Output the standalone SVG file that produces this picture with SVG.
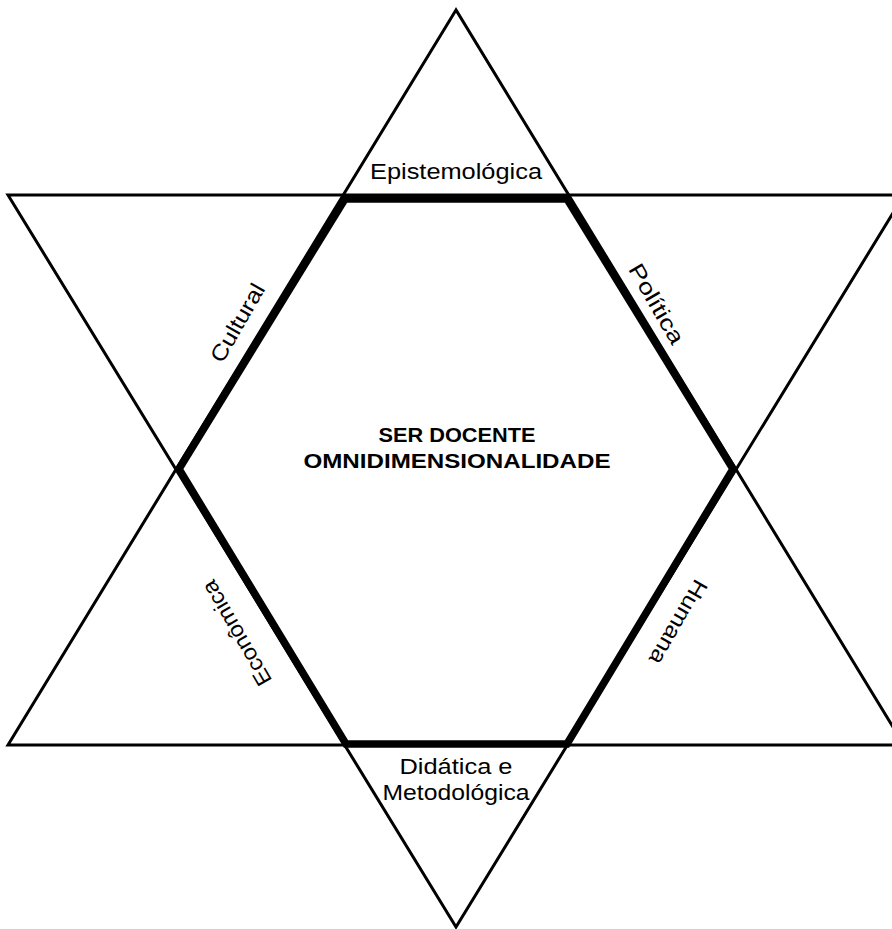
<svg xmlns="http://www.w3.org/2000/svg" width="892" height="929" viewBox="0 0 892 929">
<style>
.thin{fill:none;stroke:#000;stroke-width:3;stroke-linejoin:miter}
.thick{fill:none;stroke:#000;stroke-width:7.5;stroke-linejoin:miter}
.lbl{font-family:"Liberation Sans",Arial,sans-serif;font-size:22px;fill:#000;text-anchor:middle}
.title{font-family:"Liberation Sans",Arial,sans-serif;font-size:21px;font-weight:bold;fill:#000;text-anchor:middle}
</style>
<rect width="892" height="929" fill="#fff"/>
<g id="connectors">
<polygon class="thin" points="456,10 8,745 904,745"/>
<polygon class="thin" points="8,195 904,195 456,927"/>
<polygon class="thick" points="345,199 567,199 733,469 567,744 346,744 179,469"/>
</g>
<g id="center">
<text class="title" x="457" y="442" textLength="157" lengthAdjust="spacingAndGlyphs">SER DOCENTE</text>
<text class="title" x="457" y="468" textLength="307" lengthAdjust="spacingAndGlyphs">OMNIDIMENSIONALIDADE</text>
</g>
<g id="epistemologica">
<text class="lbl" x="456" y="179" textLength="172" lengthAdjust="spacingAndGlyphs">Epistemológica</text>
</g>
<g id="didatica">
<text class="lbl" x="456" y="774" textLength="113" lengthAdjust="spacingAndGlyphs">Didática e</text>
<text class="lbl" x="456" y="800" textLength="147" lengthAdjust="spacingAndGlyphs">Metodológica</text>
</g>
<g id="cultural">
<text class="lbl" transform="translate(238,323) rotate(-60)" y="7" textLength="87" lengthAdjust="spacingAndGlyphs">Cultural</text>
</g>
<g id="politica">
<text class="lbl" transform="translate(656,304) rotate(60)" y="7" textLength="89" lengthAdjust="spacingAndGlyphs">Política</text>
</g>
<g id="economica">
<text class="lbl" transform="translate(237,633) rotate(-120)" y="7" textLength="118" lengthAdjust="spacingAndGlyphs">Econômica</text>
</g>
<g id="humana">
<text class="lbl" transform="translate(678,622) rotate(120)" y="7" textLength="94" lengthAdjust="spacingAndGlyphs">Humana</text>
</g>
</svg>
